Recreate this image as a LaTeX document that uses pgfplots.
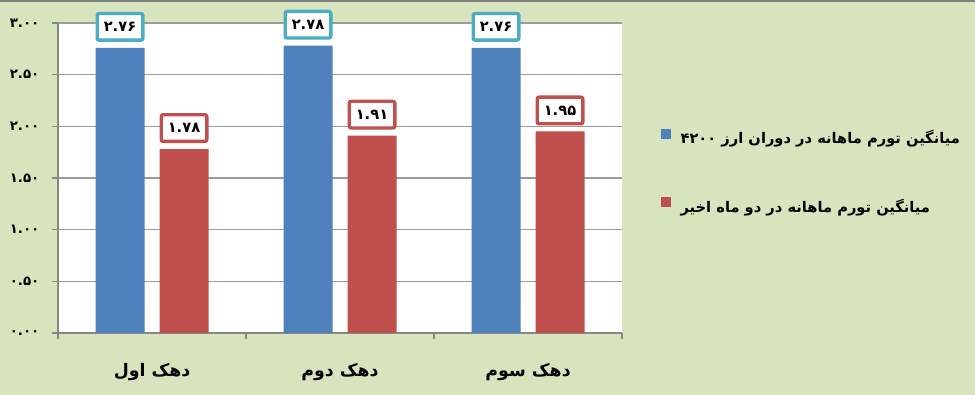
\documentclass[border=0pt]{standalone}
\usepackage{pgfplots}
\pgfplotsset{compat=1.18}
\usepackage{pgfplotstable}
\usepackage{fontspec}
\setmainfont{DejaVu Sans}
\newfontfamily\arabicfont[Script=Arabic]{DejaVu Sans}
\TeXXeTstate=1
\definecolor{bg}{RGB}{216,228,189}
\definecolor{barblue}{RGB}{79,129,189}
\definecolor{barred}{RGB}{192,80,77}
\definecolor{lblblue}{RGB}{75,172,198}
\definecolor{gridgray}{RGB}{155,155,155}
\definecolor{axisgray}{RGB}{134,134,134}
\definecolor{topgray}{RGB}{128,128,128}

\pgfplotstableread{
x y label
0 2.76 ۲.۷۶
1 2.78 ۲.۷۸
2 2.76 ۲.۷۶
}\tblA
\pgfplotstableread{
x y label
0 1.78 ۱.۷۸
1 1.91 ۱.۹۱
2 1.95 ۱.۹۵
}\tblB

\begin{document}
\begin{tikzpicture}
\fill[bg] (0,0) rectangle (731.25pt,296.25pt);
\fill[topgray] (0,294.75pt) rectangle (731.25pt,296.25pt);
\begin{axis}[
  at={(43.5pt,46.5pt)}, anchor=south west,
  scale only axis, width=423pt, height=232.5pt,
  xmin=-0.5, xmax=2.5, ymin=0, ymax=3,
  ybar=11.25pt, bar width=36.75pt,
  axis background/.style={fill=white},
  axis x line*=bottom, axis y line*=left,
  axis line style={draw=axisgray, line width=1pt},
  tick style={draw=axisgray, line width=0.8pt},
  tick align=outside,
  xtick={0,1,2},
  xticklabels={{\beginR دهک اول\endR},{\beginR دهک دوم\endR},{\beginR دهک سوم\endR}},
  major x tick style={draw=none},
  minor xtick={-0.5,0.5,1.5,2.5},
  minor tick length=4.5pt,
  major tick length=4.5pt,
  xticklabel style={font=\arabicfont\bfseries\fontsize{13}{15}\selectfont, anchor=north, yshift=-15pt},
  ytick={0,0.5,1,1.5,2,2.5,3},
  yticklabels={۰.۰۰,۰.۵۰,۱.۰۰,۱.۵۰,۲.۰۰,۲.۵۰,۳.۰۰},
  yticklabel style={font=\arabicfont\bfseries\fontsize{10}{12}\selectfont, xshift=-6pt},
  ymajorgrids, grid style={draw=gridgray, line width=0.8pt},
  nodes near coords, point meta=explicit symbolic,
  every node near coord/.append style={font=\arabicfont\bfseries\fontsize{11}{13}\selectfont,
     fill=white, line width=2.5pt, rounded corners=1.5pt,
     minimum width=34.25pt, minimum height=20pt, inner sep=1pt,
     anchor=south, yshift=4.5pt},
  legend style={at={(1.062,0.672)}, anchor=north west, draw=none, fill=none,
     font=\arabicfont\bfseries\fontsize{11}{13}\selectfont, row sep=36pt},
  legend cell align=left,
]
\addplot[fill=barblue, draw=none, every node near coord/.append style={draw=lblblue},
  legend image code/.code={\fill[barblue] (0pt,-0.5pt) rectangle (7.5pt,7pt);}]
  table[x=x, y=y, meta=label] {\tblA};
\addlegendentry{\hspace{5pt}\beginR میانگین تورم ماهانه در دوران ارز ۴۲۰۰\endR}
\addplot[fill=barred, draw=none, every node near coord/.append style={draw=barred},
  legend image code/.code={\fill[barred] (0pt,-0.5pt) rectangle (7.5pt,7pt);}]
  table[x=x, y=y, meta=label] {\tblB};
\addlegendentry{\hspace{5pt}\beginR میانگین تورم ماهانه در دو ماه اخیر\endR}
\end{axis}
\end{tikzpicture}
\end{document}
